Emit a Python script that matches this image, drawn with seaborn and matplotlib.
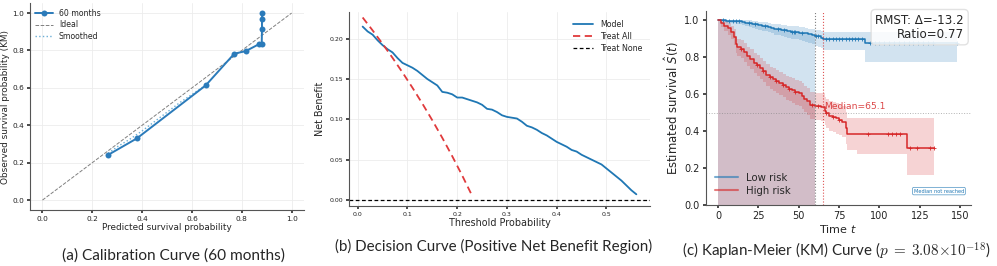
import numpy as np
import pandas as pd
import seaborn as sns
import matplotlib.pyplot as plt

# (a) calibration curve at 60 months
cal_pred = [0.264, 0.379, 0.655, 0.770, 0.815, 0.871, 0.880, 0.881, 0.881, 0.882]
cal_obs = [0.242, 0.330, 0.613, 0.783, 0.796, 0.835, 0.837, 0.913, 0.968, 1.000]
smooth_pred = [0.264, 0.30, 0.35, 0.40, 0.45, 0.50, 0.55, 0.60, 0.655]
smooth_obs = [0.250, 0.285, 0.325, 0.370, 0.420, 0.470, 0.520, 0.565, 0.615]

# (b) decision curve
dca_thr = [0.010, 0.020, 0.030, 0.040, 0.050, 0.060, 0.070, 0.080, 0.090, 0.100,
           0.110, 0.120, 0.130, 0.140, 0.150, 0.160, 0.170, 0.180, 0.190, 0.200,
           0.210, 0.220, 0.230, 0.240, 0.250, 0.260, 0.270, 0.280, 0.290, 0.300,
           0.310, 0.320, 0.330, 0.340, 0.350, 0.360, 0.370, 0.380, 0.390, 0.400,
           0.410, 0.420, 0.430, 0.440, 0.450, 0.460, 0.470, 0.480, 0.490, 0.500,
           0.510, 0.520, 0.530, 0.540, 0.550, 0.560]
dca_model = [0.215, 0.209, 0.205, 0.198, 0.192, 0.187, 0.183, 0.176, 0.170, 0.167,
             0.164, 0.160, 0.155, 0.150, 0.146, 0.142, 0.134, 0.133, 0.131, 0.127,
             0.127, 0.125, 0.123, 0.121, 0.118, 0.113, 0.112, 0.109, 0.105, 0.103,
             0.102, 0.101, 0.097, 0.092, 0.090, 0.087, 0.083, 0.080, 0.076, 0.072,
             0.069, 0.066, 0.062, 0.060, 0.056, 0.053, 0.050, 0.047, 0.044, 0.039,
             0.034, 0.029, 0.024, 0.018, 0.012, 0.007]
all_thr = [0.01, 0.03, 0.05, 0.07, 0.09, 0.11, 0.13, 0.15, 0.17, 0.19, 0.21, 0.23]
all_nb = [0.2263, 0.2103, 0.1937, 0.1763, 0.1582, 0.1393, 0.1195, 0.0988,
          0.0771, 0.0543, 0.0304, 0.0052]

# (c) Kaplan-Meier curves
low_t = [0, 3, 5, 7, 9, 11, 13, 15, 17, 19, 21, 23, 25, 27, 29, 31, 33, 35, 37, 39,
         41, 43, 45, 46, 47, 48, 50, 52, 54, 56, 58, 60, 61, 62, 64, 65, 67, 69, 71,
         73, 75, 77, 79, 81, 83, 85, 87, 89, 91, 94, 97, 100, 103, 106, 109, 112,
         115, 118, 121, 124, 127, 130, 133, 148]
low_s = [1.0, 1.0, 0.995, 0.995, 0.995, 0.995, 0.995, 0.99, 0.985, 0.985, 0.978, 0.978,
         0.972, 0.968, 0.968, 0.962, 0.958, 0.952, 0.952, 0.946, 0.946, 0.94, 0.937,
         0.937, 0.937, 0.937, 0.932, 0.932, 0.928, 0.922, 0.918, 0.912, 0.912, 0.912,
         0.905, 0.898, 0.898, 0.898, 0.898, 0.898, 0.898, 0.898, 0.898, 0.898, 0.898,
         0.898, 0.898, 0.898, 0.876, 0.876, 0.876, 0.876, 0.876, 0.876, 0.876, 0.876,
         0.876, 0.876, 0.876, 0.876, 0.876, 0.876, 0.876, 0.876]
low_lo = [1.0, 0.99, 0.985, 0.983, 0.982, 0.98, 0.978, 0.972, 0.966, 0.964, 0.956, 0.954,
          0.947, 0.942, 0.94, 0.933, 0.928, 0.92, 0.918, 0.912, 0.91, 0.903, 0.898,
          0.897, 0.896, 0.895, 0.89, 0.888, 0.882, 0.874, 0.868, 0.86, 0.858, 0.856,
          0.848, 0.838, 0.838, 0.838, 0.838, 0.838, 0.838, 0.838, 0.838, 0.838, 0.838,
          0.838, 0.838, 0.838, 0.775, 0.775, 0.775, 0.775, 0.775, 0.775, 0.775, 0.775,
          0.775, 0.775, 0.775, 0.775, 0.775, 0.775, 0.775, 0.775]
low_hi = [1.0, 1.0, 1.0, 1.0, 1.0, 1.0, 1.0, 1.0, 0.998, 0.998, 0.994, 0.994,
          0.99, 0.988, 0.988, 0.984, 0.98, 0.976, 0.976, 0.972, 0.972, 0.968, 0.965,
          0.965, 0.965, 0.965, 0.962, 0.962, 0.958, 0.954, 0.952, 0.948, 0.948, 0.948,
          0.942, 0.937, 0.937, 0.937, 0.937, 0.937, 0.937, 0.937, 0.937, 0.937, 0.937,
          0.937, 0.937, 0.937, 0.937, 0.937, 0.937, 0.937, 0.937, 0.937, 0.937, 0.937,
          0.937, 0.937, 0.937, 0.937, 0.937, 0.937, 0.937, 0.937]
low_cens = [0, 1, 0, 1, 1, 1, 1, 0, 0, 1, 0, 1, 0, 0, 1, 0, 0, 0, 1, 0,
            1, 0, 0, 1, 1, 1, 0, 1, 0, 0, 0, 0, 1, 1, 0, 0, 1, 1, 1,
            1, 1, 1, 1, 1, 1, 1, 1, 1, 0, 1, 1, 1, 1, 1, 1, 1,
            1, 1, 1, 1, 1, 1, 1, 1]

high_t = [0, 2, 4, 6, 8, 10, 11, 12, 14, 16, 18, 20, 22, 24, 26, 28, 30, 32, 34, 36,
          38, 40, 42, 44, 46, 48, 50, 52, 53, 55, 57, 58, 60, 62, 64, 66, 67, 69, 71,
          73, 75, 77, 79, 80, 86, 93, 105, 108, 110, 113, 117, 119, 123, 131, 134]
high_s = [1.0, 0.985, 0.97, 0.955, 0.935, 0.91, 0.87, 0.855, 0.845, 0.825, 0.805, 0.79,
          0.77, 0.755, 0.74, 0.725, 0.705, 0.69, 0.68, 0.67, 0.66, 0.648, 0.636, 0.628,
          0.62, 0.612, 0.604, 0.59, 0.575, 0.56, 0.54, 0.54, 0.535, 0.535, 0.53, 0.51,
          0.495, 0.48, 0.475, 0.468, 0.46, 0.45, 0.415, 0.385, 0.385, 0.385, 0.385,
          0.385, 0.385, 0.385, 0.307, 0.307, 0.307, 0.307, 0.307]
high_lo = [1.0, 0.96, 0.94, 0.92, 0.895, 0.865, 0.82, 0.805, 0.793, 0.771, 0.75, 0.734,
           0.713, 0.697, 0.681, 0.665, 0.644, 0.628, 0.617, 0.606, 0.595, 0.582, 0.569,
           0.56, 0.551, 0.542, 0.533, 0.518, 0.502, 0.486, 0.465, 0.465, 0.459, 0.459,
           0.453, 0.432, 0.416, 0.4, 0.394, 0.386, 0.377, 0.366, 0.33, 0.30, 0.275,
           0.275, 0.275, 0.275, 0.275, 0.275, 0.16, 0.16, 0.16, 0.16, 0.16]
high_hi = [1.0, 1.0, 0.995, 0.985, 0.97, 0.95, 0.915, 0.9, 0.892, 0.874, 0.856, 0.842,
           0.823, 0.809, 0.795, 0.781, 0.762, 0.748, 0.739, 0.73, 0.721, 0.71, 0.699,
           0.692, 0.685, 0.678, 0.671, 0.658, 0.644, 0.63, 0.612, 0.612, 0.608, 0.608,
           0.604, 0.586, 0.573, 0.56, 0.556, 0.55, 0.543, 0.535, 0.503, 0.47, 0.468,
           0.468, 0.468, 0.468, 0.468, 0.468, 0.468, 0.468, 0.468, 0.468, 0.468]
high_cens = [0, 0, 0, 0, 0, 0, 0, 0, 1, 0, 0, 0, 0, 1, 0, 1, 0, 1, 0, 1,
             0, 1, 0, 1, 0, 1, 0, 0, 0, 0, 0, 1, 0, 1, 0, 0, 1, 0, 1,
             0, 1, 0, 0, 0, 0, 1, 1, 1, 1, 1, 0, 1, 1, 1, 1]

tau = 60
median_high = 65.1

sns.set_theme(style="whitegrid")
plt.rcParams["font.family"] = ["DejaVu Sans"]

BLUE = "#1f77b4"
RED = "#d62728"

fig = plt.figure(figsize=(9.97, 2.66), dpi=100)

# ---------- (a) calibration ----------
ax1 = fig.add_axes([0.0301, 0.2105, 0.2749, 0.777])
ax1.plot([0, 1], [0, 1], ls="--", color="grey", lw=0.7, label="Ideal", zorder=1)
sns.lineplot(x=cal_pred, y=cal_obs, ax=ax1, color="#2b7bba", lw=1.4, marker="o",
             markersize=4.3, markeredgewidth=0, sort=False, estimator=None,
             label="60 months", zorder=3)
sns.lineplot(x=smooth_pred, y=smooth_obs, ax=ax1, color="#6aaed6", lw=1.0, ls=":",
             sort=False, estimator=None, label="Smoothed", zorder=2)
h, l = ax1.get_legend_handles_labels()
order = [l.index("60 months"), l.index("Ideal"), l.index("Smoothed")]
ax1.legend([h[i] for i in order], [l[i] for i in order], loc="upper left",
           frameon=False, fontsize=5.6, handlelength=2.2, borderaxespad=0.3,
           labelspacing=0.35)
ax1.set_xlim(-0.05, 1.05)
ax1.set_ylim(-0.053, 1.052)
ax1.set_xticks([0, 0.2, 0.4, 0.6, 0.8, 1.0])
ax1.set_yticks([0, 0.2, 0.4, 0.6, 0.8, 1.0])
ax1.set_xlabel("Predicted survival probability", fontsize=6.4, labelpad=1)
ax1.set_ylabel("Observed survival probability (KM)", fontsize=6.4, labelpad=2)
ax1.tick_params(labelsize=5.3, pad=2, length=2, left=True, bottom=True)

# ---------- (b) decision curve ----------
ax2 = fig.add_axes([0.350, 0.2256, 0.302, 0.729])
sns.lineplot(x=dca_thr, y=dca_model, ax=ax2, color=BLUE, lw=1.3, label="Model",
             estimator=None)
sns.lineplot(x=all_thr, y=all_nb, ax=ax2, color="#e03a3c", lw=1.3, ls=(0, (4, 2.5)),
             label="Treat All", estimator=None)
ax2.axhline(0, color="black", lw=0.9, ls=(0, (3, 2)), label="Treat None")
ax2.legend(loc="upper right", frameon=False, fontsize=5.7, handlelength=2.6,
           borderaxespad=0.6, labelspacing=0.35)
ax2.set_xlim(-0.0175, 0.5875)
ax2.set_ylim(-0.0075, 0.233)
ax2.set_xticks([0, 0.1, 0.2, 0.3, 0.4, 0.5])
ax2.set_yticks([0, 0.05, 0.10, 0.15, 0.20])
ax2.set_yticklabels(["0.00", "0.05", "0.10", "0.15", "0.20"])
ax2.set_xlabel("Threshold Probability", fontsize=6.9, labelpad=1)
ax2.set_ylabel("Net Benefit", fontsize=6.9, labelpad=3)
ax2.tick_params(labelsize=4.5, pad=2, length=2, left=True, bottom=True)

# ---------- (c) Kaplan-Meier ----------
ax3 = fig.add_axes([0.708, 0.229, 0.2656, 0.7306])
ax3.grid(False)
groups = [("Low risk", low_t, low_s, low_lo, low_hi, low_cens, BLUE),
          ("High risk", high_t, high_s, high_lo, high_hi, high_cens, RED)]
for name, t, s, lo, hi, cens, col in groups:
    km = pd.DataFrame({"t": t, "s": s, "lo": lo, "hi": hi, "c": cens})
    ax3.fill_between(km["t"], km["lo"], km["hi"], step="post", color=col, alpha=0.2,
                     lw=0)
    rm = km[km["t"] <= tau]
    ax3.fill_between(rm["t"], 0, rm["s"], step="post", color=col, alpha=0.2, lw=0)
    sns.lineplot(data=km, x="t", y="s", ax=ax3, color=col, lw=1.1,
                 drawstyle="steps-post", estimator=None, label=name)
    cz = km[km["c"] == 1]
    ax3.scatter(cz["t"], cz["s"], marker="+", s=9, color=col, lw=0.6, zorder=4)

ax3.axvline(tau, color="grey", ls=":", lw=0.8)
ax3.axvline(median_high, color=RED, ls=":", lw=0.8, alpha=0.8)
ax3.axhline(0.5, color="grey", ls=":", lw=0.7, alpha=0.6)
ax3.text(median_high + 0.8, 0.51, "Median=65.1", color=RED, fontsize=6.6,
         alpha=0.85, va="bottom")
ax3.text(0.975, 0.985, "RMST: Δ=-13.2\nRatio=0.77", transform=ax3.transAxes,
         ha="right", va="top", fontsize=8.6, linespacing=1.1, zorder=6,
         bbox=dict(boxstyle="round,pad=0.35", fc="white", ec="#dddddd", alpha=0.85))
ax3.text(0.975, 0.072, "Median not reached", transform=ax3.transAxes, ha="right",
         va="center", fontsize=3.6, color=BLUE,
         bbox=dict(boxstyle="round,pad=0.25", fc="white", ec=BLUE, lw=0.5, alpha=0.8))
leg = ax3.legend(loc="lower left", frameon=False, fontsize=7.3, handlelength=2.3,
                 borderaxespad=0.5, labelspacing=0.3)
for ln in leg.get_lines():
    ln.set_alpha(0.6)
    ln.set_linewidth(1.5)
ax3.set_xlim(-7.5, 156.5)
ax3.set_ylim(0, 1.05)
ax3.set_xticks([0, 25, 50, 75, 100, 125, 150])
ax3.set_yticks([0, 0.2, 0.4, 0.6, 0.8, 1.0])
ax3.set_xlabel("Time $t$", fontsize=8.0, labelpad=1)
ax3.set_ylabel(r"Estimated survival $\hat{S}(t)$", fontsize=8.4, labelpad=2)
ax3.tick_params(axis="both", labelsize=7.0, pad=2, length=2.5, bottom=True, left=True)

for ax in (ax1, ax2, ax3):
    sns.despine(ax=ax)
    for sp in ("left", "bottom"):
        ax.spines[sp].set_color("#555555")
        ax.spines[sp].set_linewidth(0.8)
    ax.tick_params(colors="#333333", labelcolor="#222222")
for ax in (ax1, ax2):
    ax.grid(True, color="#ececec", lw=0.6)

cap = dict(va="center", family=["Lato", "DejaVu Sans"])
fig.text(0.1745, 0.041, "(a) Calibration Curve (60 months)", fontsize=11.1,
         ha="center", **cap)
fig.text(0.4946, 0.072, "(b) Decision Curve (Positive Net Benefit Region)",
         fontsize=10.9, ha="center", **cap)
fig.text(0.684, 0.053, r"(c) Kaplan-Meier (KM) Curve ($p\;=\;3.08{\times}10^{-18}$)",
         fontsize=10.9, ha="left", math_fontfamily="cm", **cap)

fig.savefig("out.png", dpi=100)
